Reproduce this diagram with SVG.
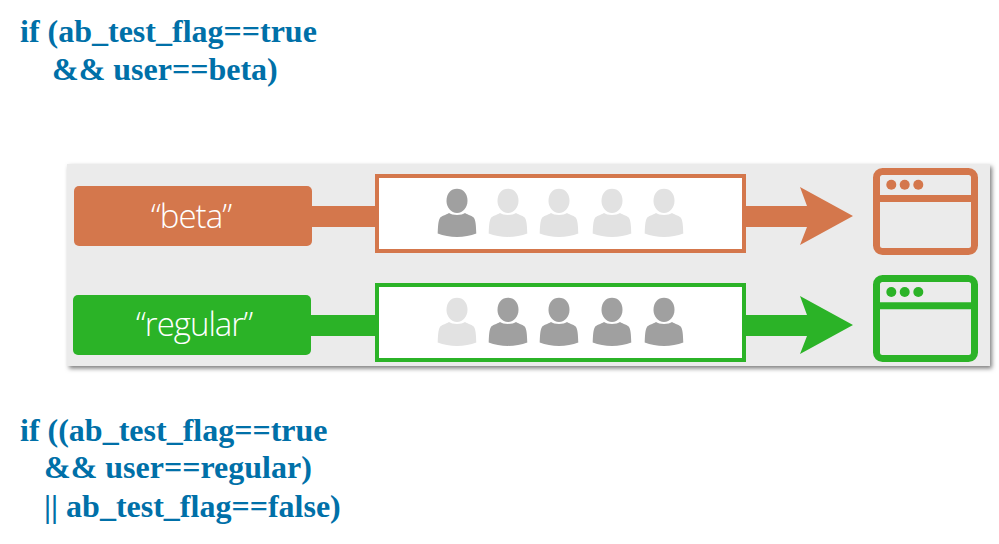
<svg xmlns="http://www.w3.org/2000/svg" xmlns:xlink="http://www.w3.org/1999/xlink" width="999" height="544" viewBox="0 0 999 544">
<style>
.code{font-family:"Liberation Serif",serif;font-weight:bold;font-size:32px;fill:#0070a8}
.lab{font-family:"Open Sans",sans-serif;font-weight:300;font-size:33px;fill:#fff;text-anchor:middle}
.o{fill:#d4774c}.g{fill:#2bb327}
.so{stroke:#d4774c}.sg{stroke:#2bb327}
.box{fill:#fff;stroke-width:4}
.win{fill:none;stroke-width:7}
.bar{fill:none;stroke-width:7}
.dark{fill:#a0a0a0}.light{fill:#e2e2e2}
</style>
<defs>
<g id="u">
<path d="M-10.500-17C-10.500-25-6-29.300 0-29.300S10.500-25 10.500-17C10.500-11 6-5 0-5S-10.500-11-10.500-17Z"/>
<path d="M8-5C11-3 16-2 17 0C19 3 19 10 19.300 15.500C8 20-8 20-19.300 15.500C-19 10-19 3-17 0C-16-2-11-3-8-5C-5-2.500 5-2.500 8-5Z"/>
</g>
<filter id="sh" x="-2%" y="-5%" width="104%" height="110%"><feDropShadow dx="2" dy="2.500" stdDeviation="2" flood-color="#000" flood-opacity=".5"/></filter>
</defs>
<rect id="panel" x="67" y="164" width="923" height="202" fill="#ebebeb" filter="url(#sh)"/>
<g id="connectors">
<rect class="o" x="311" y="206" width="66" height="21"/>
<path class="o" d="M744 206H807L800 187L853 216L800 245L807 227H744Z"/>
<rect class="g" x="310" y="315" width="67" height="21"/>
<path class="g" d="M744 315H807L800 296L853 325L800 354L807 336H744Z"/>
</g>
<g id="code-beta">
<text class="code" x="20" y="41.500">if (ab_test_flag==true</text>
<text class="code" x="52" y="79.500">&amp;&amp; user==beta)</text>
</g>
<g id="code-regular">
<text class="code" x="20" y="440.500">if ((ab_test_flag==true</text>
<text class="code" x="44" y="478">&amp;&amp; user==regular)</text>
<text class="code" x="44" y="517">|| ab_test_flag==false)</text>
</g>
<g id="label-beta">
<rect class="o" x="74" y="186" width="238" height="60" rx="5"/>
<text class="lab" x="191" y="228" letter-spacing="-1">“beta”</text>
</g>
<g id="label-regular">
<rect class="g" x="73" y="295" width="238" height="60" rx="5"/>
<text class="lab" x="194" y="336" letter-spacing="-1">“regular”</text>
</g>
<g id="users-beta">
<rect class="box so" x="377" y="176" width="367" height="75"/>
<use xlink:href="#u" class="dark" x="457" y="218"/>
<use xlink:href="#u" class="light" x="508" y="218"/>
<use xlink:href="#u" class="light" x="559" y="218"/>
<use xlink:href="#u" class="light" x="612" y="218"/>
<use xlink:href="#u" class="light" x="664" y="218"/>
</g>
<g id="users-regular">
<rect class="box sg" x="377" y="285" width="367" height="75"/>
<use xlink:href="#u" class="light" x="457" y="327"/>
<use xlink:href="#u" class="dark" x="508" y="327"/>
<use xlink:href="#u" class="dark" x="559" y="327"/>
<use xlink:href="#u" class="dark" x="612" y="327"/>
<use xlink:href="#u" class="dark" x="664" y="327"/>
</g>
<g id="window-beta">
<rect class="win so" x="876.500" y="171.500" width="98" height="80" rx="6"/>
<path class="bar so" d="M877 198.500H974"/>
<circle class="o" cx="891.300" cy="184.700" r="5"/><circle class="o" cx="904.700" cy="184.700" r="5"/><circle class="o" cx="918.300" cy="184.700" r="5"/>
</g>
<g id="window-regular">
<rect class="win sg" x="876.500" y="278.500" width="98" height="80" rx="6"/>
<path class="bar sg" d="M877 305.800H974"/>
<circle class="g" cx="891.300" cy="292" r="5"/><circle class="g" cx="904.700" cy="292" r="5"/><circle class="g" cx="918.300" cy="292" r="5"/>
</g>
</svg>
